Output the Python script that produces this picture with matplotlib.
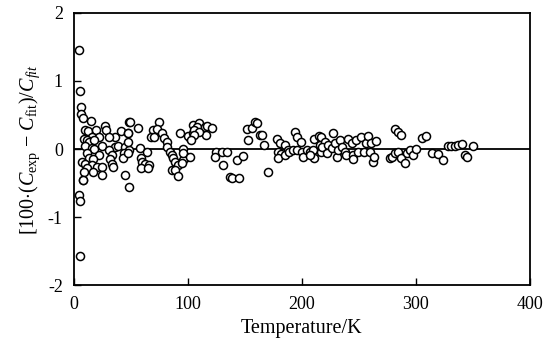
import matplotlib
matplotlib.use("Agg")
import matplotlib.pyplot as plt

plt.rcParams['font.family'] = 'Liberation Serif'
plt.rcParams['mathtext.fontset'] = 'custom'
plt.rcParams['mathtext.rm'] = 'Liberation Serif'
plt.rcParams['mathtext.it'] = 'Liberation Serif:italic'
plt.rcParams['axes.unicode_minus'] = False

# deviations: temperature (K) and 100*(Cexp-Cfit)/Cfit
temps = [4.4, 5, 6, 6, 8, 15, 4, 5, 5, 8,
         9.6, 12, 19, 27, 28, 36, 41, 47, 16, 9, 11, 22, 31, 13, 18, 25, 10, 16, 18, 36,
         39, 45, 48, 11, 22, 31, 44, 33, 13, 17, 7, 10, 43, 32, 16, 11, 20, 33, 34, 25,
         9, 17, 25, 8, 45, 48, 48,
         49, 75, 56, 47, 69, 73, 77, 68, 70, 79, 82, 47, 58, 64, 47, 82, 84, 86, 87, 89,
         91, 59, 60, 62, 66, 59, 65, 86, 89, 91, 93, 96, 99, 96, 95, 96, 102, 100, 104, 104,
         110, 108, 105, 115, 117, 121, 116, 110, 105, 103, 102, 125, 130, 134, 124, 131,
         137, 139, 145, 143, 148, 152, 156, 159, 161, 153, 163,
         165, 167, 170, 178, 181, 185, 188, 179, 182, 179, 185, 189, 192, 194, 196, 196,
         199, 200, 201, 204, 207, 210, 211, 215, 216, 211, 217, 207,
         217, 220, 218, 223, 222, 227, 226, 229, 231, 233, 232, 235, 238, 239, 240, 244,
         245, 245, 247, 249, 252, 254, 256, 258, 260, 261, 262, 265, 263, 277,
         282, 284, 287, 279, 282, 284, 287, 290, 292, 295, 297, 300, 305, 309, 314, 319,
         324, 328, 331, 334, 337, 340, 343, 350, 345]
devs = [1.45, 0.86, 0.62, 0.51, 0.46, 0.41, -0.68, -0.76, -1.57, -0.46,
        0.28, 0.27, 0.28, 0.34, 0.28, 0.18, 0.27, 0.23, 0.18, 0.14, 0.13, 0.18, 0.18, 0.10, 0.13, 0.04, 0.04, 0.02, 0.00, 0.03,
        0.04, 0.03, -0.02, -0.06, -0.09, -0.02, -0.06, -0.09, -0.13, -0.15, -0.19, -0.22, -0.13, -0.15, -0.24, -0.28, -0.26, -0.22, -0.26, -0.26,
        -0.34, -0.34, -0.38, -0.46, -0.38, -0.56, 0.40,
        0.40, 0.40, 0.31, 0.23, 0.28, 0.29, 0.24, 0.17, 0.18, 0.16, 0.11, 0.11, 0.01, -0.04, -0.06, 0.03, -0.04, -0.09, -0.13, -0.19,
        -0.24, -0.13, -0.19, -0.22, -0.24, -0.28, -0.28, -0.31, -0.31, -0.40, 0.23, 0.00, -0.12, -0.16, -0.21, -0.06, 0.16, 0.19, 0.23, 0.35,
        0.38, 0.32, 0.28, 0.32, 0.34, 0.31, 0.21, 0.25, 0.21, 0.13, -0.12, -0.04, -0.04, -0.04, -0.12, -0.24,
        -0.41, -0.42, -0.43, -0.16, -0.10, 0.29, 0.31, 0.40, 0.38, 0.13, 0.21,
        0.21, 0.06, -0.34, 0.15, 0.09, 0.06, -0.01, -0.04, -0.07, -0.13, -0.09, -0.04, -0.01, 0.25, 0.18, -0.01,
        0.10, -0.04, -0.12, -0.01, -0.04, -0.01, 0.15, 0.19, 0.06, -0.13, -0.04, -0.09,
        0.18, 0.10, 0.03, 0.06, -0.06, 0.23, 0.01, 0.09, -0.12, 0.13, -0.01, 0.03, -0.04, -0.09, 0.15, 0.09,
        -0.09, -0.15, 0.13, -0.04, 0.18, -0.04, 0.09, 0.19, -0.04, 0.09, -0.19, 0.12, -0.12, -0.13,
        0.29, 0.25, 0.21, -0.12, -0.06, -0.04, -0.13, -0.21, -0.06, -0.01, -0.09, 0.00, 0.16, 0.19, -0.06, -0.07,
        -0.16, 0.04, 0.04, 0.04, 0.06, 0.07, -0.09, 0.04, -0.12]

fig = plt.figure(figsize=(5.5, 3.53), dpi=100)
ax = fig.add_axes([0.1345, 0.1926, 0.829, 0.7706])

ax.plot([0, 400], [0, 0], color='black', lw=1.3, zorder=1)
ax.plot(temps, devs, 'o', mfc='white', mec='black', mew=1.1, ms=5.8, ls='none', zorder=2)

ax.set_xlim(0, 400)
ax.set_ylim(-2, 2)
ax.set_xticks([0, 100, 200, 300, 400])
ax.set_yticks([-2, -1, 0, 1, 2])
ax.tick_params(direction='in', length=5, width=1, labelsize=13, pad=8)
for s in ax.spines.values():
    s.set_linewidth(1.3)

ax.set_xlabel('Temperature/K', fontsize=14.5, labelpad=4)
ax.set_ylabel(r'[100$\cdot$($C_{\rm exp}$ $-$ $C_{\rm fit}$)/$C_{fit}$', fontsize=14.5, labelpad=4)

fig.savefig('out.png', dpi=100)
